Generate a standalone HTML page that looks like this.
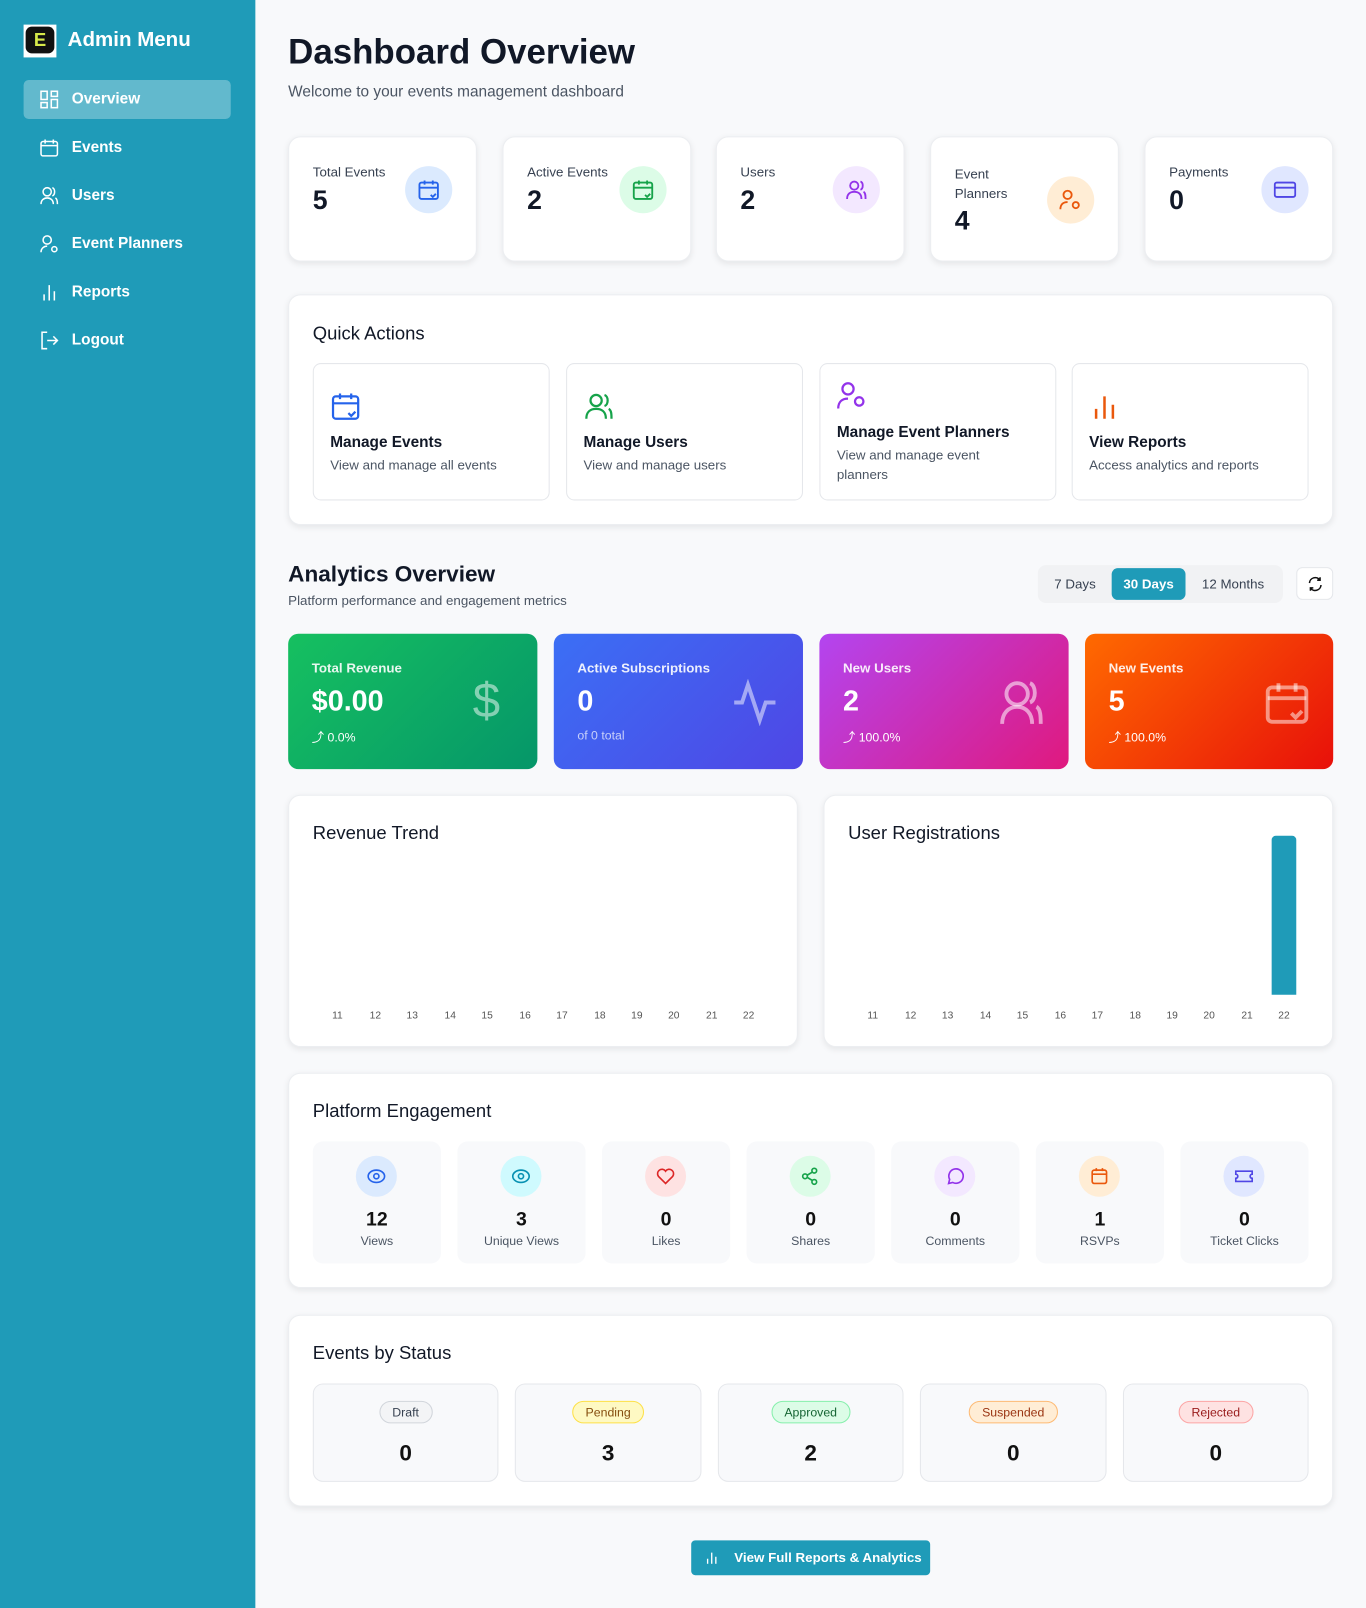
<!DOCTYPE html>
<html><head><meta charset="utf-8">
<style>
*{box-sizing:border-box;margin:0;padding:0}
html,body{width:1366px;height:1608px;overflow:hidden;background:#f8f9fb;font-family:"Liberation Sans",sans-serif}
#w{position:absolute;left:0;top:0;width:1332px;height:1568px;transform:scale(1.02553);transform-origin:0 0;background:#f8f9fb}
.a{position:absolute}
#sb{left:0;top:0;width:249px;height:1568px;background:#1f9bb8}
.nav{position:absolute;left:23px;width:202px;height:38px;color:#fff;font-weight:bold;font-size:15px;line-height:38px;padding-left:47px}
.nav svg{position:absolute;left:16px;top:10px}
.card{position:absolute;background:#fff;border-radius:12px;box-shadow:0 2px 6px rgba(0,0,0,.08);border:1px solid #eceef1}
.lbl{position:absolute;font-size:13px;color:#374151}
.num{position:absolute;font-size:26px;font-weight:bold;color:#111827}
.ic{position:absolute;width:46px;height:46px;border-radius:50%}
.ic svg{position:absolute;left:12px;top:12px}
.qa{position:absolute;top:354px;width:231px;height:134px;border:1px solid #e5e7eb;border-radius:8px;background:#fff}
.qa b{position:absolute;left:16px;font-size:15px;color:#111827}
.qa span{position:absolute;left:16px;font-size:13px;color:#4b5563;line-height:19px}
.h{position:absolute;font-size:18px;color:#111827}
.gc{position:absolute;top:618px;height:132px;border-radius:10px;color:#fff}
.gc .t{position:absolute;left:23px;top:26px;font-size:13px;font-weight:bold;opacity:.9}
.gc .v{position:absolute;left:23px;top:50px;font-size:28px;font-weight:bold}
.gc .s{position:absolute;left:23px;top:92px;font-size:12px}
.xl{position:absolute;top:985px;font-size:10px;color:#555;width:20px;text-align:center}
.en{position:absolute;top:1113px;width:125px;height:119px;background:#f8f9fb;border-radius:10px}
.en .c{position:absolute;left:42px;top:14px;width:40px;height:40px;border-radius:50%}
.en .c svg{position:absolute;left:11px;top:11px}
.en b{position:absolute;left:0;width:125px;top:66px;text-align:center;font-size:19px;color:#111}
.en span{position:absolute;left:0;width:125px;top:90px;text-align:center;font-size:12px;color:#4b5563}
.st{position:absolute;top:1349px;height:96px;background:#f8f9fb;border:1px solid #e5e7eb;border-radius:10px}
.st i{position:absolute;left:50%;transform:translateX(-50%);top:16px;font-style:normal;font-size:12px;padding:3px 12px;border-radius:12px;border:1px solid}
.st b{position:absolute;left:0;right:0;top:54px;text-align:center;font-size:22px;color:#111}
</style></head><body><div id="w">
<div class="a" id="sb">
 <div class="a" style="left:23px;top:24px;width:32px;height:32px;background:#fff;padding:2px"><div style="width:28px;height:26px;background:#111;border-radius:6px;color:#d7e94a;font-weight:bold;font-size:18px;text-align:center;line-height:26px">E</div></div>
 <div class="a" style="left:66px;top:28px;color:#fff;font-weight:bold;font-size:20px">Admin Menu</div>
 <div class="nav" style="top:78px;background:rgba(255,255,255,.3);border-radius:5px"><svg width="18" height="18" viewBox="0 0 18 18" fill="none" stroke="#fff" stroke-width="1.5"><rect x="1" y="1" width="6" height="8"/><rect x="11" y="1" width="6" height="5"/><rect x="1" y="12" width="6" height="5"/><rect x="11" y="9" width="6" height="8"/></svg>Overview</div>
 <div class="nav" style="top:125px"><svg width="18" height="18" viewBox="0 0 18 18" fill="none" stroke="#fff" stroke-width="1.5"><rect x="1" y="3" width="16" height="14" rx="2"/><path d="M1 7h16M5 1v4M13 1v4"/></svg>Events</div>
 <div class="nav" style="top:172px"><svg width="18" height="18" viewBox="0 0 18 18" fill="none" stroke="#fff" stroke-width="1.5"><circle cx="7" cy="5" r="4"/><path d="M1 17c0-4 3-6 6-6s6 2 6 6M12 1c3 1 3 7 0 8M15 11c2 1 2 4 2 6"/></svg>Users</div>
 <div class="nav" style="top:219px"><svg width="18" height="18" viewBox="0 0 18 18" fill="none" stroke="#fff" stroke-width="1.5"><circle cx="7" cy="5" r="4"/><path d="M1 17c0-4 3-6 6-6"/><circle cx="14" cy="14" r="2.5"/></svg>Event Planners</div>
 <div class="nav" style="top:266px"><svg width="18" height="18" viewBox="0 0 18 18" fill="none" stroke="#fff" stroke-width="1.5"><path d="M4 17v-6M9 17V2M14 17V8"/></svg>Reports</div>
 <div class="nav" style="top:313px"><svg width="18" height="18" viewBox="0 0 18 18" fill="none" stroke="#fff" stroke-width="1.5"><path d="M7 1H2v16h5M7 9h10M13 5l4 4-4 4"/></svg>Logout</div>
</div>

<div class="a" style="left:281px;top:32px;font-size:34px;font-weight:bold;color:#111827">Dashboard Overview</div>
<div class="a" style="left:281px;top:81px;font-size:15px;color:#4b5563">Welcome to your events management dashboard</div>

<div class="card" style="left:281px;top:133px;width:184px;height:122px"><div class="lbl" style="left:23px;top:26px">Total Events</div><div class="num" style="left:23px;top:46px">5</div><div class="ic" style="left:113px;top:28px;background:#dbeafe"><svg width="22" height="22" viewBox="0 0 22 22" fill="none" stroke="#2563eb" stroke-width="1.8"><rect x="2" y="4" width="18" height="16" rx="2"/><path d="M2 9h18M7 2v4M15 2v4M13 16l2 2 3-3"/></svg></div></div>
<div class="card" style="left:490px;top:133px;width:184px;height:122px"><div class="lbl" style="left:23px;top:26px">Active Events</div><div class="num" style="left:23px;top:46px">2</div><div class="ic" style="left:113px;top:28px;background:#dcfce7"><svg width="22" height="22" viewBox="0 0 22 22" fill="none" stroke="#16a34a" stroke-width="1.8"><rect x="2" y="4" width="18" height="16" rx="2"/><path d="M2 9h18M7 2v4M15 2v4M13 16l2 2 3-3"/></svg></div></div>
<div class="card" style="left:698px;top:133px;width:184px;height:122px"><div class="lbl" style="left:23px;top:26px">Users</div><div class="num" style="left:23px;top:46px">2</div><div class="ic" style="left:113px;top:28px;background:#f3e8ff"><svg width="22" height="22" viewBox="0 0 22 22" fill="none" stroke="#9333ea" stroke-width="1.8"><circle cx="9" cy="7" r="4"/><path d="M2 20c0-5 3-7 7-7s7 2 7 7M15 3c3 1 3 7 0 8M18 13c2 1 2 4 2 7"/></svg></div></div>
<div class="card" style="left:907px;top:133px;width:184px;height:122px"><div class="lbl" style="left:23px;top:26px;line-height:19px">Event<br>Planners</div><div class="num" style="left:23px;top:66px">4</div><div class="ic" style="left:113px;top:38px;background:#ffedd5"><svg width="22" height="22" viewBox="0 0 22 22" fill="none" stroke="#ea580c" stroke-width="1.8"><circle cx="8" cy="6" r="4"/><path d="M1 20c0-5 3-7 7-7"/><circle cx="16" cy="16" r="3"/></svg></div></div>
<div class="card" style="left:1116px;top:133px;width:184px;height:122px"><div class="lbl" style="left:23px;top:26px">Payments</div><div class="num" style="left:23px;top:46px">0</div><div class="ic" style="left:113px;top:28px;background:#e0e7ff"><svg width="22" height="22" viewBox="0 0 22 22" fill="none" stroke="#4f46e5" stroke-width="1.8"><rect x="1" y="4" width="20" height="14" rx="2"/><path d="M1 9h20"/></svg></div></div>

<div class="card" style="left:281px;top:287px;width:1019px;height:225px"></div>
<div class="h" style="left:305px;top:315px">Quick Actions</div>
<div class="qa" style="left:305px"><svg class="a" style="left:16px;top:26px" width="30" height="30" viewBox="0 0 22 22" fill="none" stroke="#2563eb" stroke-width="1.6"><rect x="2" y="4" width="18" height="16" rx="2"/><path d="M2 9h18M7 2v4M15 2v4M13 16l2 2 3-3"/></svg><b style="top:68px">Manage Events</b><span style="top:89px">View and manage all events</span></div>
<div class="qa" style="left:552px"><svg class="a" style="left:16px;top:26px" width="30" height="30" viewBox="0 0 22 22" fill="none" stroke="#16a34a" stroke-width="1.6"><circle cx="9" cy="7" r="4"/><path d="M2 20c0-5 3-7 7-7s7 2 7 7M15 3c3 1 3 7 0 8M18 13c2 1 2 4 2 7"/></svg><b style="top:68px">Manage Users</b><span style="top:89px">View and manage users</span></div>
<div class="qa" style="left:799px"><svg class="a" style="left:16px;top:16px" width="30" height="30" viewBox="0 0 22 22" fill="none" stroke="#9333ea" stroke-width="1.6"><circle cx="8" cy="6" r="4"/><path d="M1 20c0-5 3-7 7-7"/><circle cx="16" cy="15" r="3"/></svg><b style="top:58px">Manage Event Planners</b><span style="top:79px">View and manage event<br>planners</span></div>
<div class="qa" style="left:1045px"><svg class="a" style="left:16px;top:26px" width="30" height="30" viewBox="0 0 22 22" fill="none" stroke="#ea580c" stroke-width="1.8"><path d="M5 20v-7M11 20V4M17 20v-10"/></svg><b style="top:68px">View Reports</b><span style="top:89px">Access analytics and reports</span></div>

<div class="a" style="left:281px;top:547px;font-size:22px;font-weight:bold;color:#111827">Analytics Overview</div>
<div class="a" style="left:281px;top:578px;font-size:13px;color:#4b5563">Platform performance and engagement metrics</div>
<div class="a" style="left:1012px;top:551px;width:239px;height:37px;background:#f1f2f4;border-radius:8px;font-size:13px;color:#374151">
 <span class="a" style="left:16px;top:11px">7 Days</span>
 <span class="a" style="left:72px;top:3px;width:72px;height:31px;background:#1f9bb8;border-radius:6px;color:#fff;font-weight:bold;text-align:center;line-height:31px">30 Days</span>
 <span class="a" style="left:160px;top:11px">12 Months</span>
</div>
<div class="a" style="left:1264px;top:553px;width:36px;height:32px;background:#fff;border:1px solid #e5e7eb;border-radius:6px"><svg style="position:absolute;left:10px;top:8px" width="15" height="15" viewBox="0 0 16 16" fill="none" stroke="#111" stroke-width="1.6"><path d="M2 7a6 6 0 0 1 11-3M14 9a6 6 0 0 1-11 3M13 1v3h-3M3 15v-3h3"/></svg></div>

<div class="gc" style="left:281px;width:243px;background:linear-gradient(135deg,#16c060,#059669)"><div class="t">Total Revenue</div><div class="v">$0.00</div><div class="s">⤴ 0.0%</div><div class="a" style="left:180px;top:38px;font-size:48px;opacity:.5">$</div></div>
<div class="gc" style="left:540px;width:243px;background:linear-gradient(135deg,#3b6ff5,#4f46e5)"><div class="t">Active Subscriptions</div><div class="v">0</div><div class="s" style="opacity:.7">of 0 total</div><svg class="a" style="left:174px;top:44px" width="46" height="46" viewBox="0 0 24 24" fill="none" stroke="rgba(255,255,255,.5)" stroke-width="2"><path d="M1 12h4l3-9 6 18 3-9h5"/></svg></div>
<div class="gc" style="left:799px;width:243px;background:linear-gradient(135deg,#b345f0,#e0197e)"><div class="t">New Users</div><div class="v">2</div><div class="s">⤴ 100.0%</div><svg class="a" style="left:174px;top:44px" width="46" height="46" viewBox="0 0 22 22" fill="none" stroke="rgba(255,255,255,.55)" stroke-width="1.8"><circle cx="9" cy="7" r="5"/><path d="M2 21c0-5 3-8 7-8s7 3 7 8M15 2c3 1 3 8 0 9M18 13c2 1 2 5 2 8"/></svg></div>
<div class="gc" style="left:1058px;width:242px;background:linear-gradient(135deg,#ff6a00,#e8100a)"><div class="t">New Events</div><div class="v">5</div><div class="s">⤴ 100.0%</div><svg class="a" style="left:174px;top:44px" width="46" height="46" viewBox="0 0 22 22" fill="none" stroke="rgba(255,255,255,.5)" stroke-width="1.8"><rect x="2" y="4" width="18" height="16" rx="2"/><path d="M2 9h18M7 2v4M15 2v4M13 16l2 2 3-3"/></svg></div>

<div class="card" style="left:281px;top:775px;width:497px;height:246px"></div>
<div class="h" style="left:305px;top:802px">Revenue Trend</div>
<div class="card" style="left:803px;top:775px;width:497px;height:246px"></div>
<div class="h" style="left:827px;top:802px">User Registrations</div>
<div class="a" style="left:1240px;top:815px;width:24px;height:155px;background:#1f9bb8;border-radius:4px 4px 0 0"></div>
<div class="xl" style="left:319px">11</div><div class="xl" style="left:356px">12</div><div class="xl" style="left:392px">13</div><div class="xl" style="left:429px">14</div><div class="xl" style="left:465px">15</div><div class="xl" style="left:502px">16</div><div class="xl" style="left:538px">17</div><div class="xl" style="left:575px">18</div><div class="xl" style="left:611px">19</div><div class="xl" style="left:647px">20</div><div class="xl" style="left:684px">21</div><div class="xl" style="left:720px">22</div>
<div class="xl" style="left:841px">11</div><div class="xl" style="left:878px">12</div><div class="xl" style="left:914px">13</div><div class="xl" style="left:951px">14</div><div class="xl" style="left:987px">15</div><div class="xl" style="left:1024px">16</div><div class="xl" style="left:1060px">17</div><div class="xl" style="left:1097px">18</div><div class="xl" style="left:1133px">19</div><div class="xl" style="left:1169px">20</div><div class="xl" style="left:1206px">21</div><div class="xl" style="left:1242px">22</div>

<div class="card" style="left:281px;top:1046px;width:1019px;height:210px"></div>
<div class="h" style="left:305px;top:1073px">Platform Engagement</div>
<div class="en" style="left:305px"><div class="c" style="background:#dbeafe"><svg width="18" height="18" viewBox="0 0 18 18" fill="none" stroke="#2563eb" stroke-width="1.6"><ellipse cx="9" cy="9" rx="8" ry="6"/><circle cx="9" cy="9" r="2.5"/></svg></div><b>12</b><span>Views</span></div>
<div class="en" style="left:446px"><div class="c" style="background:#cffafe"><svg width="18" height="18" viewBox="0 0 18 18" fill="none" stroke="#0891b2" stroke-width="1.6"><ellipse cx="9" cy="9" rx="8" ry="6"/><circle cx="9" cy="9" r="2.5"/></svg></div><b>3</b><span>Unique Views</span></div>
<div class="en" style="left:587px"><div class="c" style="background:#fee2e2"><svg width="18" height="18" viewBox="0 0 18 18" fill="none" stroke="#dc2626" stroke-width="1.6"><path d="M9 16L2 9a4 4 0 0 1 7-5 4 4 0 0 1 7 5z"/></svg></div><b>0</b><span>Likes</span></div>
<div class="en" style="left:728px"><div class="c" style="background:#dcfce7"><svg width="18" height="18" viewBox="0 0 18 18" fill="none" stroke="#16a34a" stroke-width="1.6"><circle cx="13" cy="3.5" r="2.3"/><circle cx="4" cy="9" r="2.3"/><circle cx="13" cy="14.5" r="2.3"/><path d="M6 8l5-3M6 10l5 3"/></svg></div><b>0</b><span>Shares</span></div>
<div class="en" style="left:869px"><div class="c" style="background:#f3e8ff"><svg width="18" height="18" viewBox="0 0 18 18" fill="none" stroke="#9333ea" stroke-width="1.6"><path d="M3 16l1-4a7 7 0 1 1 3 3z"/></svg></div><b>0</b><span>Comments</span></div>
<div class="en" style="left:1010px"><div class="c" style="background:#ffedd5"><svg width="18" height="18" viewBox="0 0 18 18" fill="none" stroke="#ea580c" stroke-width="1.6"><rect x="2" y="3" width="14" height="13" rx="2"/><path d="M2 7h14M6 1v3M12 1v3"/></svg></div><b>1</b><span>RSVPs</span></div>
<div class="en" style="left:1151px"><div class="c" style="background:#e0e7ff"><svg width="18" height="18" viewBox="0 0 18 18" fill="none" stroke="#4f46e5" stroke-width="1.6"><path d="M1 4h16v3a2 2 0 0 0 0 4v3H1v-3a2 2 0 0 0 0-4z"/></svg></div><b>0</b><span>Ticket Clicks</span></div>

<div class="card" style="left:281px;top:1282px;width:1019px;height:187px"></div>
<div class="h" style="left:305px;top:1309px">Events by Status</div>
<div class="st" style="left:305px;width:181px"><i style="background:#f3f4f6;border-color:#d1d5db;color:#374151">Draft</i><b>0</b></div>
<div class="st" style="left:502px;width:182px"><i style="background:#fef9c3;border-color:#fde047;color:#854d0e">Pending</i><b>3</b></div>
<div class="st" style="left:700px;width:181px"><i style="background:#dcfce7;border-color:#86efac;color:#166534">Approved</i><b>2</b></div>
<div class="st" style="left:897px;width:182px"><i style="background:#ffedd5;border-color:#fdba74;color:#9a3412">Suspended</i><b>0</b></div>
<div class="st" style="left:1095px;width:181px"><i style="background:#fee2e2;border-color:#fca5a5;color:#991b1b">Rejected</i><b>0</b></div>

<div class="a" style="left:674px;top:1502px;width:233px;height:34px;background:#1f9bb8;border-radius:4px;color:#fff;font-size:13px;font-weight:bold;line-height:34px;padding-left:42px"><svg style="position:absolute;left:14px;top:11px" width="12" height="12" viewBox="0 0 12 12" fill="none" stroke="#fff" stroke-width="1.3"><path d="M2 12V7M6 12V1M10 12V5"/></svg>View Full Reports &amp; Analytics</div>
</div></body></html>
